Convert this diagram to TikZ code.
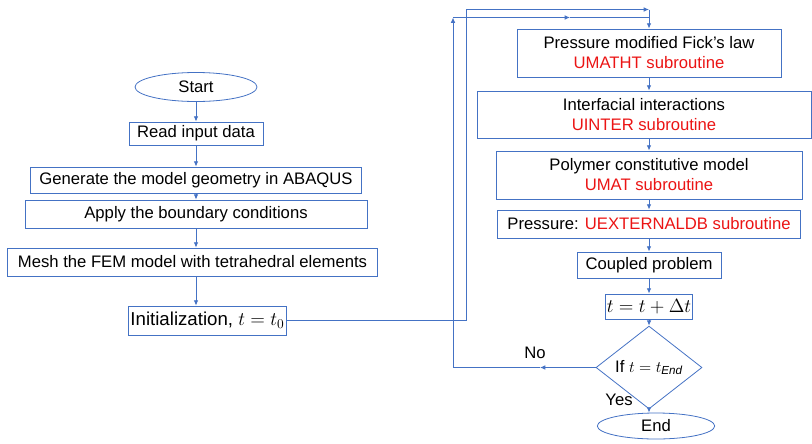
\documentclass[tikz,border=0pt]{standalone}
\usepackage{amsmath}
\usepackage{fontspec}
\setmainfont{Liberation Sans}
\usetikzlibrary{shapes.geometric,arrows.meta}
\definecolor{flowblue}{RGB}{68,114,196}
\definecolor{subred}{RGB}{235,20,20}

\begin{document}
\begin{tikzpicture}[x=0.75pt, y=-0.75pt,
        font=\fontsize{12.5}{15}\selectfont,
        block/.style={rectangle, draw=flowblue, line width=0.6pt, align=center, inner sep=1pt},
        term/.style={ellipse, draw=flowblue, line width=0.6pt, inner sep=0pt},
        decision/.style={diamond, draw=flowblue, line width=0.6pt, inner sep=0pt},
        bigtext/.style={font=\fontsize{14}{16}\selectfont},
        arr/.style={-{Latex[length=4pt,width=3.5pt]}, draw=flowblue, line width=0.7pt},
        link/.style={draw=flowblue, line width=0.7pt}]
        \useasboundingbox (0,0) rectangle (812,443);

        % left column
        \node[term, minimum width=91.5pt, minimum height=21.75pt] (start) at (196,87) {Start};
        \node[block, minimum width=100.5pt, minimum height=17.25pt] (read) at (196,133.5) {Read input data};
        \node[block, minimum width=248pt, minimum height=19.5pt] (geom) at (196,180) {Generate the model geometry in ABAQUS};
        \node[block, minimum width=256.5pt, minimum height=21pt] (bc) at (196,214) {Apply the boundary conditions};
        \node[block, minimum width=277pt, minimum height=21pt] (mesh) at (192.5,262) {Mesh the FEM model with tetrahedral elements};
        \node[block, bigtext, minimum width=119pt, minimum height=21.75pt] (init) at (207.5,320.5) {Initialization, $t=t_0$};

        % right column
        \node[block, minimum width=198pt, minimum height=36pt] (fick) at (649,53) {Pressure modified Fick’s law\\\textcolor{subred}{UMATHT subroutine}};
        \node[block, minimum width=250.5pt, minimum height=35.25pt] (inter) at (644,114.5) {Interfacial interactions\\\textcolor{subred}{UINTER subroutine}};
        \node[block, minimum width=229.5pt, minimum height=36pt] (umat) at (649,175) {Polymer constitutive model\\\textcolor{subred}{UMAT subroutine}};
        \node[block, minimum width=227pt, minimum height=21pt] (press) at (649,224) {Pressure: \textcolor{subred}{UEXTERNALDB subroutine}};
        \node[block, minimum width=108pt, minimum height=19.5pt] (coupled) at (649,265) {Coupled problem};
        \node[block, bigtext, minimum width=59pt, minimum height=18.75pt] (step) at (649,306.5) {$t=t+\Delta t$};
        \node[decision, minimum width=79.5pt, minimum height=45.75pt] (check) at (649,367.5) {If $t=t_{\text{\itshape End}}$};
        \node[term, minimum width=88pt, minimum height=19.5pt] (end) at (656,426) {End};

        \node (nolbl) at (535,353) {No};
        \node (yeslbl) at (619,400) {Yes};

        \coordinate (rise) at (466,9.5);
        \coordinate (jtop) at (649,9.5);
        \coordinate (jloop) at (649,17.5);
        \coordinate (nomid) at (540,367.5);
        \coordinate (noleft) at (453,367.5);
        \coordinate (back) at (453,17.5);
        \coordinate (loopmid) at (570,17.5);

        \draw[arr] (start) -- (read);
        \draw[arr] (read) -- (geom);
        \draw[arr] (geom) -- (bc);
        \draw[arr] (bc.south) -- (bc.south |- mesh.north);
        \draw[arr] (mesh.south -| bc.south) -- (bc.south |- init.north);
        \draw[arr] (init.east) -| (rise) -- (jtop);
        \draw[arr] (jtop) -- (fick);
        \draw[arr] (fick.south) -- (fick.south |- inter.north);
        \draw[arr] (inter.south -| fick.south) -- (umat.north);
        \draw[arr] (umat) -- (press);
        \draw[arr] (press) -- (coupled);
        \draw[arr] (coupled) -- (step);
        \draw[arr] (step) -- (check);
        \draw[arr] (check.south) -- (check.south |- end.north);
        \draw[arr] (check) -- (nomid);
        \draw[link] (nomid) -- (noleft);
        \draw[arr] (noleft) -- (back);
        \draw[arr] (back) -- (loopmid);
        \draw[link] (loopmid) -- (jloop);
    \end{tikzpicture}
\end{document}
